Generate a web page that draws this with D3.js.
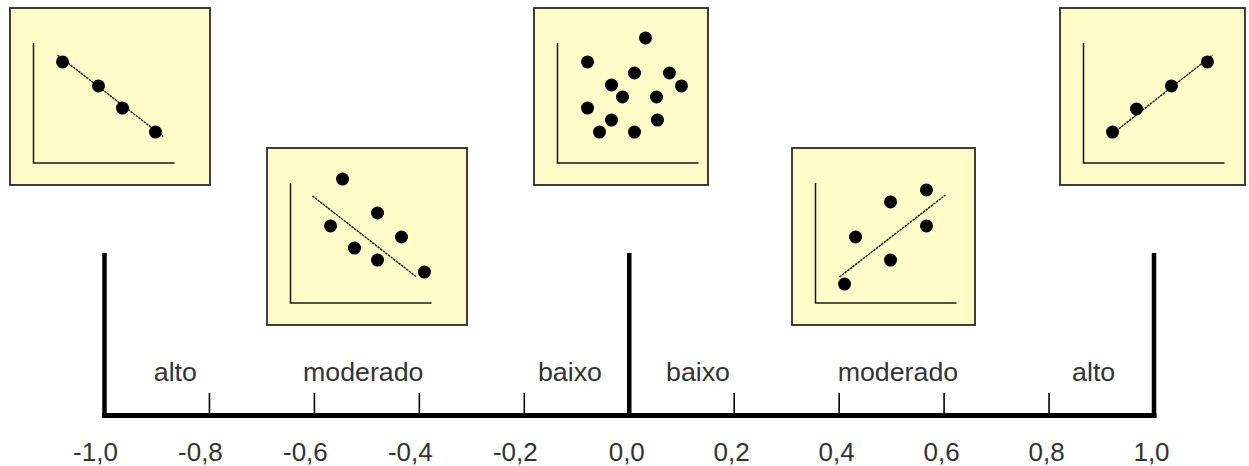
<!DOCTYPE html>
<html><head><meta charset="utf-8">
<script src="https://cdn.jsdelivr.net/npm/d3@7"></script>
<style>html,body{margin:0;padding:0;background:#fff;} svg{display:block;}</style>
</head><body><svg id="chart" width="1249" height="466"></svg>
<script>
// ---- data ----
const tickValues = [-1.0,-0.8,-0.6,-0.4,-0.2,0.0,0.2,0.4,0.6,0.8,1.0];
const tickLabels = ["-1,0","-0,8","-0,6","-0,4","-0,2","0,0","0,2","0,4","0,6","0,8","1,0"];
const dividerValues = [-1,0,1];
const strengthLabels = ["alto","moderado","baixo","baixo","moderado","alto"];
const strengthCenters = [-0.865,-0.507,-0.113,0.131,0.512,0.885];

// scatter examples (local units 0..10 on each mini-plot)
const points1 = [[2.06,8.42],[4.61,6.42],[6.31,4.58],[8.65,2.58]];
const trend1  = [[1.7,9.0],[9.2,2.2]];
const points2 = [[3.69,10.33],[2.84,6.42],[6.17,7.5],[4.54,4.58],[6.17,3.58],[7.87,5.5],[9.5,2.58]];
const trend2  = [[1.56,8.92],[8.94,2.17]];
const points3 = [[6.24,10.42],[2.13,8.42],[5.46,7.5],[7.94,7.5],[3.83,6.5],[8.79,6.42],[4.61,5.5],[7.02,5.5],[2.13,4.58],[3.83,3.58],[7.09,3.58],[2.98,2.58],[5.46,2.58]];
const trend3  = [];
const points4 = [[2.06,1.58],[2.84,5.5],[5.32,8.42],[5.32,3.58],[7.87,9.42],[7.87,6.42]];
const trend4  = [[1.7,2.17],[9.22,9.0]];
const points5 = [[2.06,2.58],[3.76,4.5],[6.24,6.42],[8.79,8.42]];
const trend5  = [[1.77,2.17],[9.15,9.0]];

// ---- layout ----
const panelBoxes = [
  {x:10,  y:8,   w:200, h:177},
  {x:267, y:148, w:200, h:177},
  {x:534, y:8,   w:174, h:177},
  {x:792, y:148, w:183, h:177},
  {x:1060,y:8,   w:185, h:177}
];
const panels = [
  {pts:points1, trend:trend1},
  {pts:points2, trend:trend2},
  {pts:points3, trend:trend3},
  {pts:points4, trend:trend4},
  {pts:points5, trend:trend5}
];

const svg = d3.select("#chart");
const font = "'Liberation Sans', Arial, Helvetica, sans-serif";
const textColor = "#333";

const x = d3.scaleLinear().domain([-1,1]).range([104.5,1154]);
const axisY = 415.5;

// mini scatter panels
panels.forEach((p,i) => {
  const b = panelBoxes[i];
  const g = svg.append("g");
  g.append("rect").attr("x",b.x).attr("y",b.y).attr("width",b.w).attr("height",b.h)
    .attr("fill","#fffcc9").attr("stroke","#2a2a2a").attr("stroke-width",1.8);
  const ox = b.x + 23.5, top = b.y + 35, bottom = b.y + 155;
  const px = d3.scaleLinear().domain([0,10]).range([ox, ox+141]);
  const py = d3.scaleLinear().domain([0,10]).range([bottom, top]);
  g.append("path").attr("d", `M${px(0)},${py(10)}V${py(0)}H${px(10)}`)
    .attr("fill","none").attr("stroke","#1a1a1a").attr("stroke-width",1.5);
  if (p.trend.length) {
    g.append("path").attr("d", d3.line().x(d=>px(d[0])).y(d=>py(d[1]))(p.trend))
      .attr("fill","none").attr("stroke","#111").attr("stroke-width",1.4)
      .attr("stroke-dasharray","2.5,0.8");
  }
  g.selectAll("circle").data(p.pts).join("circle")
    .attr("cx",d=>px(d[0])).attr("cy",d=>py(d[1])).attr("r",6.5).attr("fill","#000");
});

// main axis
svg.append("line").attr("x1",x(-1)-2.5).attr("x2",x(1)+2.5).attr("y1",axisY).attr("y2",axisY)
  .attr("stroke","#000").attr("stroke-width",5);
svg.selectAll(".divider").data(dividerValues).join("line").attr("class","divider")
  .attr("x1",d=>x(d)).attr("x2",d=>x(d)).attr("y1",253).attr("y2",axisY+2.5)
  .attr("stroke","#000").attr("stroke-width",4.5);
svg.selectAll(".minor").data(tickValues.filter(v=>!dividerValues.includes(v))).join("line").attr("class","minor")
  .attr("x1",d=>x(d)).attr("x2",d=>x(d)).attr("y1",393).attr("y2",axisY)
  .attr("stroke","#000").attr("stroke-width",1.6);

// tick labels
svg.selectAll(".tl").data(tickValues).join("text").attr("class","tl")
  .attr("x",d=>x(d) + (d<0 ? -9 : -2.5)).attr("y",461)
  .attr("text-anchor","middle").attr("font-family",font).attr("font-size",26)
  .attr("fill",textColor)
  .text((d,i)=>tickLabels[i]);

// strength labels (slightly wide face, as in the original)
svg.selectAll(".sl").data(strengthCenters).join("text").attr("class","sl")
  .attr("x",d=>x(d)).attr("y",381)
  .attr("text-anchor","middle").attr("font-family",font).attr("font-size",25)
  .attr("fill",textColor)
  .text((d,i)=>strengthLabels[i])
  .each(function(){
    const w = this.getComputedTextLength();
    d3.select(this).attr("textLength", w*1.07).attr("lengthAdjust","spacingAndGlyphs");
  });
</script>
</body></html>
